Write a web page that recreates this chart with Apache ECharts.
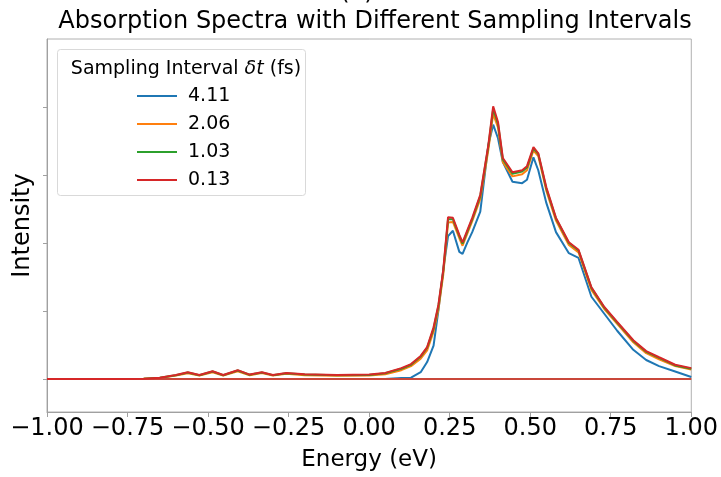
<!DOCTYPE html>
<html>
<head>
<meta charset="utf-8">
<script src="https://cdn.jsdelivr.net/npm/echarts@6/dist/echarts.min.js"></script>
<style>
  html, body { margin: 0; padding: 0; background: #fff; }
  #chart { width: 721px; height: 477px; }
</style>
</head>
<body>
<div id="chart"></div>
<script>
// energy grid (eV), shared by all four spectra
var energy = [-1.0, -0.9, -0.8, -0.7, -0.65, -0.6, -0.563, -0.527, -0.486, -0.453,
  -0.408, -0.371, -0.333, -0.299, -0.257, -0.2, -0.1, 0.0, 0.05, 0.1,
  0.13, 0.16, 0.18, 0.2, 0.215, 0.23, 0.245, 0.26, 0.28, 0.29,
  0.305, 0.32, 0.345, 0.37, 0.385, 0.4, 0.415, 0.445, 0.475, 0.49,
  0.51, 0.525, 0.55, 0.58, 0.62, 0.65, 0.69, 0.73, 0.77, 0.82,
  0.86, 0.9, 0.95, 1.0];

// intensity for each sampling interval (fs)
var dt411 = [0, 0, 0, 0, 0, 0, 0, 0, 0, 0,
  0, 0, 0, 0, 0, 0, 0, 0, 0, 0.015,
  0.02, 0.10, 0.25, 0.49, 1.01, 1.60, 2.10, 2.18, 1.87, 1.84,
  2.01, 2.16, 2.46, 3.44, 3.74, 3.54, 3.19, 2.90, 2.88, 2.93,
  3.26, 3.07, 2.59, 2.16, 1.85, 1.78, 1.21, 0.96, 0.71, 0.43,
  0.28, 0.19, 0.11, 0.03];
var dt206 = [0, 0, 0, 0.004, 0.016, 0.05, 0.085, 0.05, 0.10, 0.05,
  0.115, 0.055, 0.088, 0.05, 0.078, 0.055, 0.048, 0.05, 0.07, 0.13,
  0.19, 0.30, 0.42, 0.70, 1.02, 1.53, 2.30, 2.31, 2.07, 1.96,
  2.14, 2.32, 2.65, 3.37, 3.90, 3.70, 3.19, 2.98, 3.01, 3.07,
  3.36, 3.28, 2.77, 2.33, 1.97, 1.86, 1.31, 1.03, 0.81, 0.54,
  0.38, 0.29, 0.19, 0.14];
var dt103 = [0, 0, 0, 0.005, 0.018, 0.056, 0.095, 0.056, 0.11, 0.056,
  0.125, 0.062, 0.096, 0.057, 0.086, 0.066, 0.056, 0.06, 0.085, 0.15,
  0.21, 0.33, 0.46, 0.74, 1.07, 1.58, 2.35, 2.35, 2.10, 1.99,
  2.17, 2.35, 2.69, 3.42, 3.97, 3.75, 3.23, 3.02, 3.05, 3.11,
  3.39, 3.31, 2.80, 2.36, 2.00, 1.89, 1.34, 1.05, 0.83, 0.56,
  0.40, 0.31, 0.20, 0.15];
var dt013 = [0, 0, 0, 0.005, 0.02, 0.06, 0.10, 0.06, 0.115, 0.06,
  0.13, 0.065, 0.10, 0.06, 0.09, 0.07, 0.06, 0.065, 0.09, 0.16,
  0.22, 0.34, 0.47, 0.76, 1.09, 1.60, 2.38, 2.37, 2.12, 2.01,
  2.19, 2.37, 2.71, 3.44, 4.01, 3.78, 3.25, 3.04, 3.07, 3.13,
  3.41, 3.32, 2.82, 2.37, 2.01, 1.90, 1.35, 1.06, 0.84, 0.57,
  0.41, 0.32, 0.21, 0.16];

var seriesNames = ['4.11', '2.06', '1.03', '0.13'];
var seriesData = [dt411, dt206, dt103, dt013];
var colors = ['#1f77b4', '#ff7f0e', '#2ca02c', '#d62728'];
var yTicks = [0, 1, 2, 3, 4];

var font = 'DejaVu Sans';

function pairs(ys) {
  return energy.map(function (e, i) { return [e, ys[i]]; });
}

var series = seriesNames.map(function (name, k) {
  var s = {
    name: name,
    type: 'line',
    data: pairs(seriesData[k]),
    showSymbol: false,
    symbol: 'none',
    lineStyle: { color: colors[k], width: 2 },
    itemStyle: { color: colors[k] },
    z: 2 + k
  };
  if (k === 3) {
    // zero line across the whole window
    s.markLine = {
      silent: true,
      symbol: 'none',
      label: { show: false },
      lineStyle: { color: '#c9473a', width: 2, type: 'solid' },
      data: [{ yAxis: 0 }]
    };
  }
  return s;
});

var chart = echarts.init(document.getElementById('chart'));

var option = {
  backgroundColor: '#fff',
  animation: false,
  color: colors,
  title: [
    {
      text: 'Absorption Spectra with Different Sampling Intervals',
      left: 370, top: 5, textAlign: 'center',
      textStyle: { fontFamily: font, fontWeight: 'normal', fontSize: 24, color: '#000' }
    },
    {
      text: '(a)',
      left: 352, top: -24, textAlign: 'center',
      textStyle: { fontFamily: font, fontWeight: 'normal', fontSize: 24, color: '#000' }
    },
    {
      text: 'Sampling Interval {i|δt} (fs)',
      left: 181, top: 55, textAlign: 'center',
      textStyle: {
        fontFamily: font, fontWeight: 'normal', fontSize: 19, color: '#000',
        rich: {
          i: { fontFamily: font, fontStyle: 'italic', fontSize: 19, color: '#000' }
        }
      },
      z: 12
    }
  ],
  graphic: [
    {
      type: 'rect',
      left: 57, top: 49,
      shape: { width: 248, height: 146, r: 3 },
      style: { fill: '#fff', stroke: '#d9d9d9', lineWidth: 1 },
      z: 1
    }
  ],
  legend: {
    data: seriesNames,
    orient: 'vertical',
    left: 132, top: 81,
    icon: 'rect',
    itemWidth: 40, itemHeight: 2,
    itemGap: 8,
    selectedMode: false,
    textStyle: { fontFamily: font, fontSize: 19, color: '#000', padding: [0, 0, 0, 6], lineHeight: 20 },
    z: 12
  },
  grid: {
    left: 47, right: 29, top: 39, bottom: 65,
    show: true, borderColor: '#b0b0b0', borderWidth: 1
  },
  xAxis: {
    type: 'value',
    min: -1, max: 1, interval: 0.25,
    name: 'Energy (eV)',
    nameLocation: 'middle', nameGap: 37,
    nameTextStyle: { fontFamily: font, fontSize: 23, color: '#000' },
    axisLine: { show: true, onZero: false, lineStyle: { color: '#a0a0a0', width: 1 } },
    axisTick: { show: true, inside: false, length: 5, lineStyle: { color: '#a0a0a0' } },
    axisLabel: {
      fontFamily: font, fontSize: 24, color: '#000', margin: 5,
      showMinLabel: true, showMaxLabel: true,
      formatter: function (v) { return v.toFixed(2).replace('-', '\u2212'); }
    },
    splitLine: { show: false }
  },
  yAxis: {
    type: 'value',
    min: -0.485, max: 5.0,
    name: 'Intensity',
    nameLocation: 'middle', nameGap: 12,
    nameTextStyle: { fontFamily: font, fontSize: 24, color: '#000' },
    axisLine: { show: true, onZero: false, lineStyle: { color: '#a0a0a0', width: 1 } },
    axisTick: { show: true, inside: false, length: 4, customValues: yTicks, lineStyle: { color: '#a0a0a0' } },
    axisLabel: { show: false },
    splitLine: { show: false }
  },
  series: series
};

chart.setOption(option);
</script>
</body>
</html>
